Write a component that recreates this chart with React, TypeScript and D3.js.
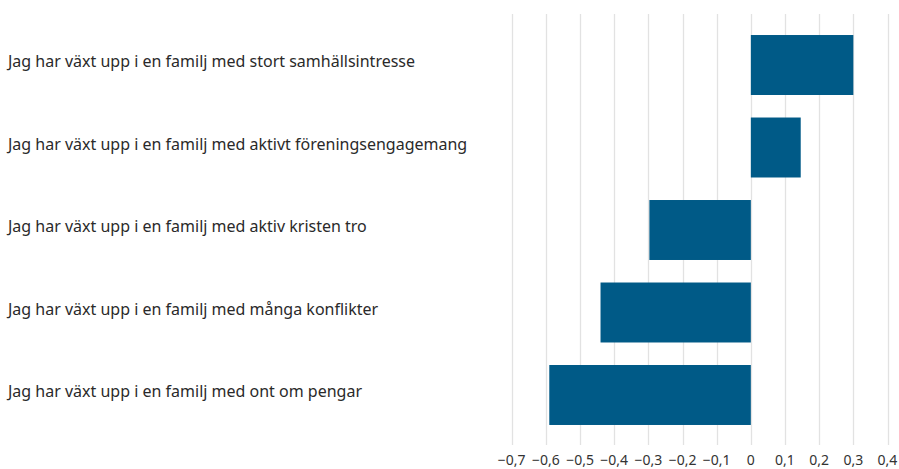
import React, { useEffect, useRef } from 'react';
import * as d3 from 'd3';

const categories = [
  'Jag har växt upp i en familj med stort samhällsintresse',
  'Jag har växt upp i en familj med aktivt föreningsengagemang',
  'Jag har växt upp i en familj med aktiv kristen tro',
  'Jag har växt upp i en familj med många konflikter',
  'Jag har växt upp i en familj med ont om pengar',
];
const values = [0.3, 0.146, -0.297, -0.44, -0.59];
const ticks = [-0.7, -0.6, -0.5, -0.4, -0.3, -0.2, -0.1, 0, 0.1, 0.2, 0.3, 0.4];

const App: React.FC = () => {
  const svgRef = useRef<SVGSVGElement>(null);

  useEffect(() => {
    if (!svgRef.current) return;
    const svg = d3.select(svgRef.current);
    svg.selectAll('*').remove();

    const width = 899;
    const height = 469;
    const font = "'Noto Sans', sans-serif";

    const x = d3.scaleLinear().domain([-0.7, 0.4]).range([511.7, 887.5]);
    const y = d3.scaleBand<string>()
      .domain(categories)
      .range([12.5, 447.5])
      .paddingInner(0.273)
      .paddingOuter(0.273);

    svg.attr('width', width).attr('height', height);

    // gridlines
    svg.append('g')
      .selectAll('line')
      .data(ticks)
      .join('line')
      .attr('x1', d => Math.round(x(d)) + 0.5)
      .attr('x2', d => Math.round(x(d)) + 0.5)
      .attr('y1', 14)
      .attr('y2', 445)
      .attr('stroke', '#e2e2e2')
      .attr('stroke-width', 1.3);

    // bars
    svg.append('g')
      .selectAll('rect')
      .data(values)
      .join('rect')
      .attr('x', d => x(Math.min(0, d)))
      .attr('width', d => Math.abs(x(d) - x(0)))
      .attr('y', (_d, i) => y(categories[i])!)
      .attr('height', y.bandwidth())
      .attr('fill', '#005a87');

    // category labels
    svg.append('g')
      .selectAll('text')
      .data(categories)
      .join('text')
      .attr('x', 8)
      .attr('y', d => y(d)! + y.bandwidth() / 2 - 2)
      .attr('dominant-baseline', 'middle')
      .style('font-family', font)
      .style('font-size', '16px')
      .attr('fill', '#2a2a2a')
      .text(d => d);

    // tick labels
    const fmt = (d: number) => (d === 0 ? '0' : d3.format('.1f')(d).replace('.', ',').replace('-', '−'));
    svg.append('g')
      .selectAll('text')
      .data(ticks)
      .join('text')
      .attr('x', d => x(d))
      .attr('y', 461)
      .attr('text-anchor', 'middle')
      .attr('dominant-baseline', 'middle')
      .style('font-family', font)
      .style('font-size', '14px')
      .attr('fill', '#333')
      .text(fmt);
  }, []);

  return (
    <div style={{ position: 'absolute', left: 0, top: 0, background: '#fff' }}>
      <svg ref={svgRef} style={{ display: 'block' }} />
    </div>
  );
};

export default App;
